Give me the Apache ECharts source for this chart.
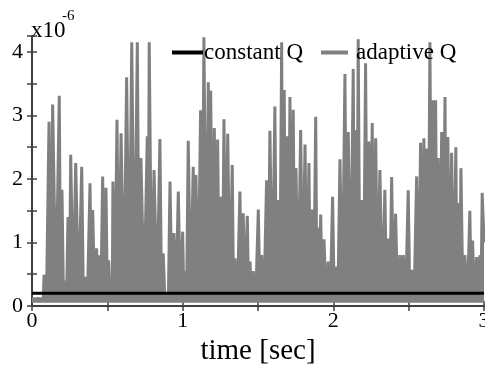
<!DOCTYPE html>
<html><head><meta charset="utf-8">
<script src="https://cdn.jsdelivr.net/npm/echarts@6/dist/echarts.min.js"></script>
<style>html,body{margin:0;padding:0;background:#fff}#c{width:485px;height:367px}</style>
</head><body><div id="c"></div>
<script>
// values in units of 1e-6
const xTickLabels = ['0', '1', '2', '3'];
const yTickLabels = ['0', '1', '2', '3', '4'];
const constantQ = [[0, 0.2], [3, 0.2]];
const adaptiveQ = [
[0,0.12],[0.02,0.11],[0.04,0.12],[0.06,0.11],[0.075,0.12],
[0.080,0.49],[0.096,0.1],[0.113,2.9],[0.125,0.12],[0.137,3.17],[0.159,0.08],[0.181,3.31],[0.190,0.1],
[0.199,1.83],[0.209,0.1],[0.219,0.4],[0.229,0.09],[0.239,1.4],[0.248,0.12],[0.257,2.38],[0.273,0.1],
[0.290,2.25],[0.310,0.08],[0.330,2.19],[0.341,0.1],[0.352,0.46],[0.368,0.11],[0.385,1.93],[0.394,0.09],
[0.403,1.51],[0.416,0.1],[0.429,0.91],[0.437,0.12],[0.445,0.8],[0.457,0.09],[0.469,2.04],[0.480,0.1],
[0.491,1.86],[0.500,0.11],[0.509,0.72],[0.519,0.08],[0.529,0.3],[0.533,0.1],[0.537,1.96],[0.550,0.12],
[0.564,2.93],[0.577,0.1],[0.591,2.72],[0.610,0.09],[0.628,3.6],[0.645,0.11],[0.662,4.15],[0.680,0.1],
[0.699,4.15],[0.711,0.08],[0.723,2.33],[0.744,0.1],[0.765,2.67],[0.771,0.12],[0.778,4.15],[0.794,0.1],
[0.810,2.14],[0.830,0.09],[0.849,2.63],[0.860,0.11],[0.871,0.83],[0.882,0.1],[0.894,0.2],[0.905,0.09],
[0.916,1.96],[0.929,0.12],[0.942,1.15],[0.956,0.1],[0.971,1.8],[0.985,0.08],[1.000,1.17],[1.008,0.1],
[1.015,0.55],[1.026,0.11],[1.037,2.6],[1.053,0.09],[1.070,2.19],[1.079,0.1],[1.088,2.06],[1.103,0.12],
[1.119,3.08],[1.130,0.1],[1.141,4.23],[1.155,0.09],[1.170,3.52],[1.178,0.11],[1.186,3.39],[1.198,0.1],
[1.210,2.8],[1.221,0.08],[1.232,2.62],[1.243,0.1],[1.254,1.72],[1.264,0.12],[1.274,2.94],[1.286,0.1],
[1.299,2.71],[1.314,0.09],[1.329,2.22],[1.338,0.11],[1.347,0.75],[1.363,0.1],[1.380,1.8],[1.391,0.08],
[1.402,1.46],[1.415,0.1],[1.429,1.42],[1.438,0.12],[1.447,0.7],[1.457,0.1],[1.468,0.55],[1.485,0.09],
[1.502,1.52],[1.513,0.11],[1.524,0.8],[1.540,0.1],[1.557,1.98],[1.568,0.08],[1.579,2.76],[1.595,0.1],
[1.612,3.14],[1.623,0.12],[1.634,1.67],[1.645,0.1],[1.657,4.15],[1.665,0.09],[1.674,3.4],[1.682,0.11],
[1.690,2.67],[1.701,0.1],[1.712,3.29],[1.723,0.08],[1.734,3.09],[1.743,0.1],[1.752,2.17],[1.767,0.12],
[1.783,2.77],[1.797,0.1],[1.812,2.54],[1.825,0.09],[1.838,2.25],[1.847,0.11],[1.856,1.52],[1.870,0.1],
[1.883,2.98],[1.891,0.08],[1.900,1.23],[1.908,0.1],[1.916,1.44],[1.927,0.12],[1.938,1.05],[1.952,0.1],
[1.966,0.7],[1.980,0.09],[1.995,1.72],[2.006,0.11],[2.017,0.62],[2.030,0.1],[2.044,2.31],[2.060,0.08],
[2.077,3.65],[2.088,0.1],[2.099,2.74],[2.115,0.12],[2.132,3.73],[2.141,0.1],[2.150,2.77],[2.157,0.09],
[2.165,4.2],[2.176,0.11],[2.188,1.67],[2.201,0.1],[2.214,3.82],[2.225,0.08],[2.236,2.59],[2.247,0.1],
[2.258,2.88],[2.269,0.12],[2.281,2.64],[2.295,0.1],[2.309,2.14],[2.325,0.09],[2.342,1.83],[2.353,0.11],
[2.364,1.06],[2.375,0.1],[2.387,2.03],[2.400,0.08],[2.413,1.45],[2.427,0.1],[2.442,0.8],[2.453,0.12],
[2.464,0.8],[2.480,0.1],[2.497,1.82],[2.508,0.09],[2.520,0.57],[2.536,0.11],[2.553,2.04],[2.566,0.1],
[2.579,2.57],[2.590,0.08],[2.601,2.64],[2.610,0.1],[2.619,2.48],[2.630,0.12],[2.641,4.15],[2.652,0.1],
[2.663,3.24],[2.671,0.09],[2.679,3.24],[2.687,0.11],[2.696,2.33],[2.707,0.1],[2.719,2.74],[2.730,0.08],
[2.741,3.29],[2.750,0.1],[2.760,2.66],[2.772,0.12],[2.785,2.41],[2.799,0.1],[2.813,2.5],[2.821,0.09],
[2.829,1.62],[2.838,0.11],[2.847,2.17],[2.860,0.1],[2.873,0.8],[2.890,0.08],[2.906,1.5],[2.915,0.1],
[2.924,1.03],[2.937,0.12],[2.951,0.77],[2.962,0.1],[2.973,0.8],[2.980,0.09],[2.988,1.78],[3.000,1.0]
];

const FONT = 'Liberation Serif';
const AX = '#404040';
const GREY = '#808080';
const chart = echarts.init(document.getElementById('c'), null, {renderer: 'canvas'});
function intLabel(labels) {
  return function (v) {
    const s = String(Math.round(v));
    return (Math.abs(v - Math.round(v)) < 1e-6 && labels.indexOf(s) >= 0) ? s : '';
  };
}
const axisCommon = {
  axisLine: {show: true, lineStyle: {color: AX, width: 2}},
  axisTick: {show: true, inside: true, length: 5, lineStyle: {color: AX, width: 1.5}},
  splitLine: {show: false}
};
const legendText = {fontFamily: FONT, fontSize: 23, color: '#000'};
chart.setOption({
  animation: false,
  backgroundColor: '#fff',
  grid: {left: 32, right: 1, top: 36, bottom: 61, containLabel: false, outerBoundsMode: 'none'},
  legend: [
    {top: 36, left: 167, itemWidth: 31, itemHeight: 4, icon: 'rect',
      textStyle: Object.assign({padding: [0, 0, 0, -4]}, legendText), data: ['constant Q']},
    {top: 36, left: 316, itemWidth: 27, itemHeight: 4, icon: 'rect',
      textStyle: Object.assign({padding: [0, 0, 0, 3]}, legendText), data: ['adaptive Q']}
  ],
  xAxis: [
    Object.assign({type: 'value', min: 0, max: 3, interval: 0.5, position: 'bottom',
      axisLabel: {fontFamily: FONT, fontSize: 22, color: '#000', margin: 4, formatter: intLabel(xTickLabels)},
      name: 'time [sec]', nameLocation: 'middle', nameGap: 31,
      nameTextStyle: {fontFamily: FONT, fontSize: 29, color: '#000'}}, axisCommon),
    Object.assign({type: 'value', min: 0, max: 3, interval: 0.5, position: 'top',
      axisLabel: {show: false}}, axisCommon)
  ],
  yAxis: [
    Object.assign({type: 'value', min: 0, max: 4.25, interval: 0.5, position: 'left',
      axisLabel: {fontFamily: FONT, fontSize: 22, color: '#000', margin: 9, formatter: intLabel(yTickLabels)}}, axisCommon),
    Object.assign({type: 'value', min: 0, max: 4.25, interval: 0.5, position: 'right',
      axisLabel: {show: false}}, axisCommon)
  ],
  graphic: [
    {type: 'text', left: 31, top: 19, style: {text: 'x10', fontFamily: FONT, fontSize: 23, fill: '#000'}},
    {type: 'text', left: 62, top: 9, style: {text: '-6', fontFamily: FONT, fontSize: 15, fill: '#000'}}
  ],
  series: [
    {name: 'adaptive Q', type: 'line', data: adaptiveQ, showSymbol: false, symbol: 'none',
      lineStyle: {color: GREY, width: 3}, itemStyle: {color: GREY},
      areaStyle: {color: GREY, opacity: 1, origin: 0.05}, z: 2},
    {name: 'constant Q', type: 'line', data: constantQ, showSymbol: false, symbol: 'none',
      lineStyle: {color: '#000', width: 3}, itemStyle: {color: '#000'}, z: 3}
  ]
});
</script></body></html>
